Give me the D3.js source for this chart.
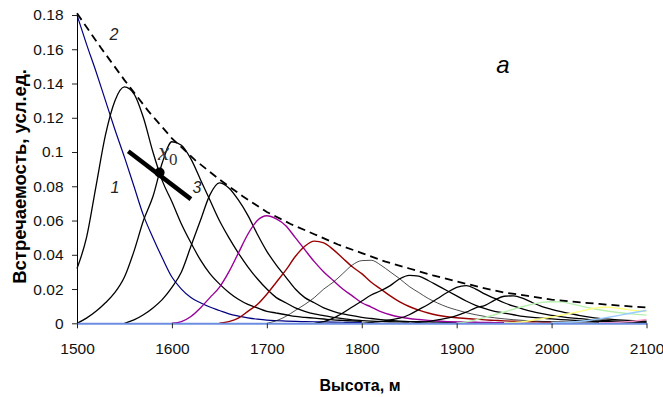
<!DOCTYPE html>
<html>
<head>
<meta charset="utf-8">
<script src="https://cdn.jsdelivr.net/npm/d3@7"></script>
<style>
  body { margin: 0; background: #fff; }
  svg { display: block; }
</style>
</head>
<body>
<div id="chart"></div>
<script>
// altitude step of every series, m
const altStep = 10;

// curve 1 (blue), from 1500
const curve1 = [0.180, 0.163, 0.147, 0.130, 0.113, 0.097, 0.080, 0.063, 0.050, 0.038,
  0.027, 0.020, 0.015, 0.012, 0.0095, 0.0075, 0.0055, 0.0042, 0.0032, 0.0024,
  0.0018, 0.0015, 0.0013, 0.0011, 0.001, 0.0009, 0.0008, 0.0007, 0.0006, 0.0005, 0.0005];

// peaked curves, each with its first altitude
const peak1550 = [0.032, 0.050, 0.080, 0.110, 0.130, 0.138, 0.134, 0.120, 0.100, 0.083,
  0.071, 0.058, 0.047, 0.037, 0.029, 0.023, 0.018, 0.014, 0.011, 0.009,
  0.007, 0.006, 0.005, 0.004, 0.0035, 0.003, 0.0025, 0.002, 0.0017, 0.0014, 0.0012];
const peak1600 = [0, 0.003, 0.007, 0.012, 0.018, 0.027, 0.042, 0.060, 0.074, 0.094,
  0.106, 0.104, 0.096, 0.084, 0.072, 0.060, 0.050, 0.041, 0.033, 0.026,
  0.020, 0.015, 0.012, 0.009, 0.007, 0.0055, 0.0045, 0.0035, 0.0027, 0.002,
  0.0016, 0.0013, 0.0011, 0.0009, 0.0008, 0.0007];
const peak1650 = [0, 0.002, 0.005, 0.009, 0.014, 0.021, 0.030, 0.045, 0.060, 0.075,
  0.082, 0.079, 0.072, 0.063, 0.052, 0.042, 0.034, 0.027, 0.020, 0.015,
  0.012, 0.009, 0.007, 0.0055, 0.0045, 0.0035, 0.0028, 0.0022, 0.0017, 0.0013,
  0.001, 0.0009, 0.0008, 0.0007, 0.0006, 0.0005];
const peak1700 = [0, 0.001, 0.004, 0.009, 0.015, 0.021, 0.030, 0.041, 0.052, 0.060,
  0.0628, 0.061, 0.057, 0.050, 0.043, 0.036, 0.030, 0.025, 0.020, 0.016,
  0.012, 0.0095, 0.0068, 0.005, 0.0037, 0.0028, 0.0022, 0.0017, 0.0013, 0.001,
  0.0008, 0.0007, 0.0006, 0.0005, 0.0004, 0.0003];
const peak1750 = [0, 0.001, 0.003, 0.007, 0.011, 0.017, 0.024, 0.031, 0.039, 0.045,
  0.048, 0.047, 0.043, 0.038, 0.033, 0.029, 0.024, 0.020, 0.016, 0.0125,
  0.0098, 0.0077, 0.006, 0.0047, 0.0038, 0.0032, 0.0028, 0.0024, 0.002, 0.0017,
  0.0014, 0.0012, 0.001, 0.0009, 0.0008, 0.0007];
const peak1800 = [0, 0.0015, 0.004, 0.0075, 0.011, 0.015, 0.020, 0.024, 0.029, 0.034,
  0.0366, 0.0368, 0.034, 0.030, 0.026, 0.0215, 0.018, 0.0145, 0.0118, 0.0095,
  0.0078, 0.0062, 0.005, 0.004, 0.0032, 0.0026, 0.0021, 0.0017, 0.0014, 0.0011,
  0.001, 0.0009, 0.0008, 0.0007, 0.0006, 0.0005];
const peak1850 = [0, 0.001, 0.003, 0.006, 0.0095, 0.013, 0.0165, 0.019, 0.022, 0.026,
  0.028, 0.0275, 0.025, 0.022, 0.019, 0.016, 0.013, 0.0105, 0.0085, 0.007,
  0.006, 0.005, 0.004, 0.0034, 0.003, 0.0026, 0.0022, 0.0019, 0.0016, 0.0013,
  0.001, 0.0009, 0.0008, 0.0007, 0.0006, 0.0005];
const peak1900 = [0, 0.0005, 0.001, 0.002, 0.003, 0.005, 0.008, 0.011, 0.0145, 0.018,
  0.021, 0.022, 0.020, 0.017, 0.0145, 0.012, 0.010, 0.0083, 0.0068, 0.0056,
  0.0046, 0.0039, 0.0032, 0.0027, 0.0022, 0.0018, 0.0015, 0.0012, 0.001, 0.0009, 0.0008];
const peak1950 = [0, 0.0005, 0.001, 0.002, 0.003, 0.0045, 0.0065, 0.009, 0.0105, 0.0135,
  0.0158, 0.016, 0.0145, 0.012, 0.0098, 0.0082, 0.0068, 0.0056, 0.0045, 0.0036,
  0.0029, 0.0024, 0.002, 0.0017, 0.0015, 0.0013];
const peak2000 = [0, 0.0008, 0.002, 0.0035, 0.005, 0.0066, 0.0082, 0.0098, 0.0112, 0.0122,
  0.0126, 0.0125, 0.0115, 0.0102, 0.009, 0.0079, 0.007, 0.0063, 0.0057, 0.0052, 0.0048];
const peak2050 = [0, 0.0005, 0.001, 0.0018, 0.0027, 0.0037, 0.0047, 0.0058, 0.007, 0.0082,
  0.0092, 0.0094, 0.0088, 0.008, 0.0073, 0.0068];
const peak2100 = [0, 0.0003, 0.0007, 0.0012, 0.0018, 0.0026, 0.0035, 0.0045, 0.0056, 0.0066, 0.0075];
const peak2150 = [0, 0.0003, 0.0006, 0.001, 0.0015, 0.0022];

// curve 2 (dashed envelope)
const envelopeAlt = [1500, 1525, 1550, 1575, 1600, 1625, 1650, 1675, 1700, 1725, 1750, 1775,
  1800, 1825, 1850, 1875, 1900, 1925, 1950, 1975, 2000, 2025, 2050, 2075, 2100];
const envelopeVal = [0.181, 0.161, 0.142, 0.124, 0.108, 0.095, 0.084, 0.074, 0.065, 0.058, 0.052, 0.046,
  0.041, 0.036, 0.032, 0.028, 0.0245, 0.021, 0.018, 0.016, 0.0138, 0.0125, 0.0113, 0.0102, 0.0092];

// tangent at x0
const tangentAlt = [1554, 1620];
const tangentVal = [0.1005, 0.0725];
const pointX0 = [1587, 0.088];

const xTicks = [1500, 1600, 1700, 1800, 1900, 2000, 2100];
const yTicks = [0, 0.02, 0.04, 0.06, 0.08, 0.1, 0.12, 0.14, 0.16, 0.18];
const yTickLabels = ['0', '0.02', '0.04', '0.06', '0.08', '0.1', '0.12', '0.14', '0.16', '0.18'];

const W = 663, H = 397;
const margin = {top: 15, right: 16.5, bottom: 73.7, left: 77};
const font = 'Liberation Sans, Arial, sans-serif';

const svg = d3.select('#chart').append('svg')
  .attr('width', W)
  .attr('height', H);

const x = d3.scaleLinear().domain([1500, 2100]).range([margin.left, W - margin.right]);
const y = d3.scaleLinear().domain([0, 0.18]).range([H - margin.bottom, margin.top]);

const series = [
  {start: 1500, values: curve1, color: '#000080', width: 1.2},
  {start: 1500, values: peak1550, color: '#000', width: 1.3},
  {start: 1500, values: peak1600, color: '#000', width: 1.3},
  {start: 1550, values: peak1650, color: '#000', width: 1.3},
  {start: 1600, values: peak1700, color: '#990099', width: 1.4},
  {start: 1650, values: peak1750, color: '#990000', width: 1.4},
  {start: 1700, values: peak1800, color: '#000', width: 0.7},
  {start: 1750, values: peak1850, color: '#000', width: 1.3},
  {start: 1800, values: peak1900, color: '#000', width: 1.3},
  {start: 1850, values: peak1950, color: '#000', width: 1.3},
  {start: 1900, values: peak2000, color: '#b8f0b0', width: 1.4},
  {start: 1950, values: peak2050, color: '#ffff80', width: 1.4},
  {start: 2000, values: peak2100, color: '#99ccff', width: 1.4},
  {start: 2050, values: peak2150, color: '#ff99cc', width: 1.4}
];

const line = d3.line()
  .x(d => x(d[0]))
  .y(d => y(d[1]))
  .curve(d3.curveMonotoneX);

svg.append('g').selectAll('path')
  .data(series)
  .enter().append('path')
  .attr('fill', 'none')
  .attr('stroke', d => d.color)
  .attr('stroke-width', d => d.width)
  .attr('d', d => line(d.values.map((v, i) => [d.start + i * altStep, v])));

// envelope
svg.append('path')
  .attr('fill', 'none')
  .attr('stroke', '#000')
  .attr('stroke-width', 1.8)
  .attr('stroke-dasharray', '8,5')
  .attr('d', d3.line().x(d => x(d[0])).y(d => y(d[1]))(envelopeAlt.map((a, i) => [a, envelopeVal[i]])));

// axes
const yAxis = svg.append('g')
  .attr('transform', `translate(${margin.left},0)`)
  .call(d3.axisLeft(y).tickValues(yTicks).tickSize(5).tickSizeOuter(0).tickPadding(8.5)
    .tickFormat((d, i) => yTickLabels[i]));

const xAxis = svg.append('g')
  .attr('transform', `translate(0,${H - margin.bottom})`)
  .call(d3.axisBottom(x).tickValues(xTicks).tickSize(5).tickSizeOuter(0).tickPadding(15)
    .tickFormat(d3.format('d')));
xAxis.select('.domain').attr('stroke', '#6d8ee0').attr('stroke-width', 2);

svg.selectAll('.tick text')
  .attr('fill', '#111')
  .style('font-family', font)
  .style('font-size', '15.5px');
svg.selectAll('.tick line').attr('stroke', '#222');

// tangent and point
svg.append('line')
  .attr('x1', x(tangentAlt[0])).attr('y1', y(tangentVal[0]))
  .attr('x2', x(tangentAlt[1])).attr('y2', y(tangentVal[1]))
  .attr('stroke', '#000')
  .attr('stroke-width', 4.5);
svg.append('circle')
  .attr('cx', x(pointX0[0]))
  .attr('cy', y(pointX0[1]))
  .attr('r', 5)
  .attr('fill', '#000');

// labels
svg.append('text')
  .attr('transform', 'translate(25.5,176.5) rotate(-90)')
  .attr('text-anchor', 'middle')
  .style('font-family', font)
  .style('font-weight', 'bold')
  .style('font-size', '18.5px')
  .text('Встречаемость, усл.ед.');

svg.append('text')
  .attr('x', 360)
  .attr('y', 391)
  .attr('text-anchor', 'middle')
  .style('font-family', font)
  .style('font-weight', 'bold')
  .style('font-size', '16px')
  .text('Высота, м');

const notes = [
  {t: '2', x: 114, y: 40},
  {t: '1', x: 115, y: 193},
  {t: '3', x: 197, y: 193}
];
svg.append('g').selectAll('text')
  .data(notes)
  .enter().append('text')
  .attr('x', d => d.x)
  .attr('y', d => d.y)
  .attr('text-anchor', 'middle')
  .style('font-family', font)
  .style('font-style', 'italic')
  .style('font-size', '16px')
  .attr('fill', '#222')
  .text(d => d.t);

const x0 = svg.append('text')
  .attr('x', 158)
  .attr('y', 160)
  .attr('fill', '#333')
  .style('font-family', 'Liberation Serif, Times New Roman, serif');
x0.append('tspan').style('font-style', 'italic').style('font-size', '25px').text('x');
x0.append('tspan').attr('dy', 5).style('font-size', '17px').text('0');

svg.append('text')
  .attr('x', 503)
  .attr('y', 72.5)
  .attr('text-anchor', 'middle')
  .style('font-family', font)
  .style('font-style', 'italic')
  .style('font-size', '24px')
  .text('a');
</script>
</body>
</html>
